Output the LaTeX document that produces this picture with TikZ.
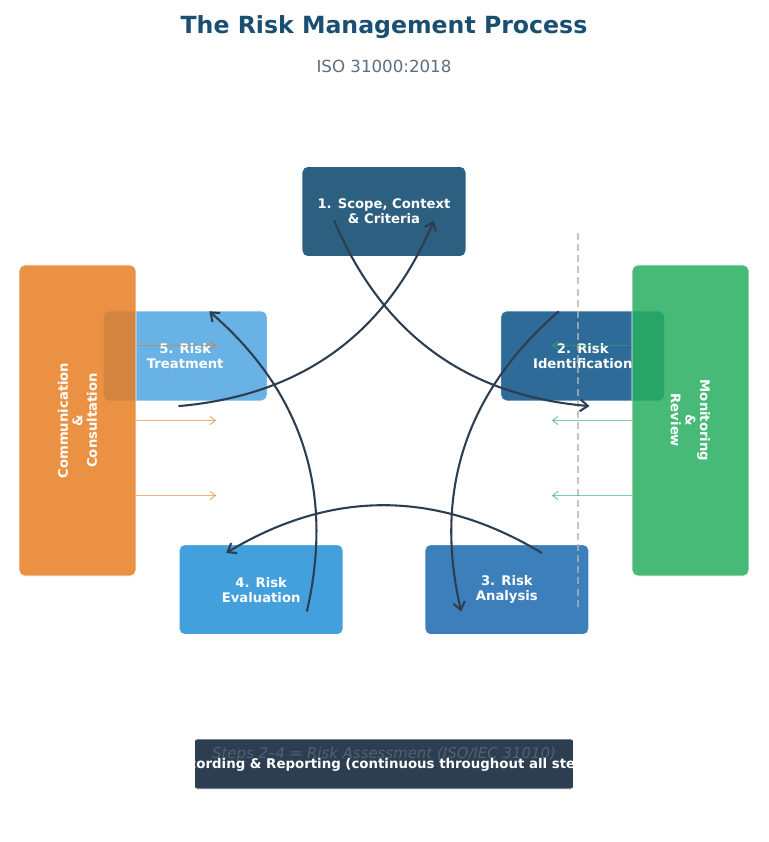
\documentclass[tikz,border=0pt]{standalone}
\usepackage{fontspec}
\setmainfont{DejaVu Sans}
\usetikzlibrary{arrows.meta, positioning, calc}
\definecolor{titleblue}{HTML}{1B4F72}
\definecolor{subgray}{HTML}{5D6D7E}
\definecolor{stepA}{HTML}{2C5F80}
\definecolor{stepB}{HTML}{2F6B98}
\definecolor{stepC}{HTML}{3D7FBB}
\definecolor{stepD}{HTML}{43A0DC}
\definecolor{stepE}{HTML}{69B2E5}
\definecolor{commorange}{HTML}{E67E22}
\definecolor{monigreen}{HTML}{27AE60}
\definecolor{darkslate}{HTML}{2C3E50}
\def\ringrad{209}

\begin{document}
\begin{tikzpicture}[x=0.72pt, y=0.72pt]
    \tikzstyle{step box}=[rectangle, rounded corners=4pt, draw=white, line width=0.6pt, minimum width=118pt, minimum height=64.8pt, inner sep=0pt, text=white, align=center, font=\bfseries\fontsize{9.5}{10.8}\selectfont]
    \tikzstyle{side box}=[rectangle, rounded corners=4pt, draw=white, line width=0.6pt, minimum width=224pt, minimum height=84.2pt, inner sep=0pt, fill opacity=0.85, text opacity=1, text=white, align=center, font=\bfseries\fontsize{9.5}{10.5}\selectfont]
    \tikzstyle{flow}=[->, >={Straight Barb[length=5.5pt,width=8.5pt]}, draw=darkslate, line width=1.5pt]
    \tikzstyle{side arrow}=[->, >={Straight Barb[length=4pt,width=6pt]}, line width=0.8pt, draw opacity=0.6]
    \useasboundingbox (-384,-421.5) rectangle (384,420.5);

    % Title
    \node[text=titleblue, font=\bfseries\fontsize{17}{20}\selectfont] (title) at (0,393.5) {The Risk Management Process};
    \node[text=subgray, font=\fontsize{12}{14}\selectfont] (subtitle) at (0,354.5) {ISO 31000:2018};

    % The five steps round the ring
    \foreach \name/\ang/\col/\txt in {
        1/90/stepA/{1. Scope, Context\\\& Criteria},
        2/18/stepB/{2. Risk\\Identification},
        3/-54/stepC/{3. Risk\\Analysis},
        4/-126/stepD/{4. Risk\\Evaluation},
        5/162/stepE/{5. Risk\\Treatment}}
    {
        \node[step box, fill=\col] (S-\name) at (\ang:\ringrad) {\txt};
        \coordinate (out-\name) at ({\ang+14}:206);
        \coordinate (in-\name) at ({\ang-14}:206);
    }

    \draw[gray!60, line width=1.1pt, dash pattern=on 5pt off 3pt, opacity=0.75] (194,187.5) -- (194,-187);

    \foreach \a/\b in {1/2,2/3,3/4,4/5,5/1}
        \draw[flow] (out-\a) to[bend right=31] (in-\b);

    % Side activities
    \node[side box, fill=commorange, rotate=90] (comm) at (-306.5,0) {Communication\\\&\\Consultation};
    \node[side box, fill=monigreen, rotate=-90] (moni) at (306.5,0) {Monitoring\\\&\\Review};

    \foreach \y in {75,0,-75}
    {
        \draw[side arrow, draw=commorange] ($(comm.south)+(0,\y)$) -- ++(80,0);
        \draw[side arrow, draw=monigreen] ($(moni.south)+(0,\y)$) -- ++(-80,0);
    }

    % Recording bar
    \node[rectangle, rounded corners=2pt, fill=darkslate, draw=white, line width=0.4pt, minimum width=272.9pt, minimum height=36pt] (rec) at (0,-343.5) {};
    \node[text=subgray!75!darkslate, font=\itshape\fontsize{10.75}{12}\selectfont] (note) at ($(rec.center)+(0,10)$) {Steps 2–4 = Risk Assessment (ISO/IEC 31010)};
    \node[text=white, font=\bfseries\fontsize{9.6}{12}\selectfont] (rectext) at ($(rec.center)+(0,-1)$) {Recording \& Reporting (continuous throughout all steps)};
\end{tikzpicture}
\end{document}
